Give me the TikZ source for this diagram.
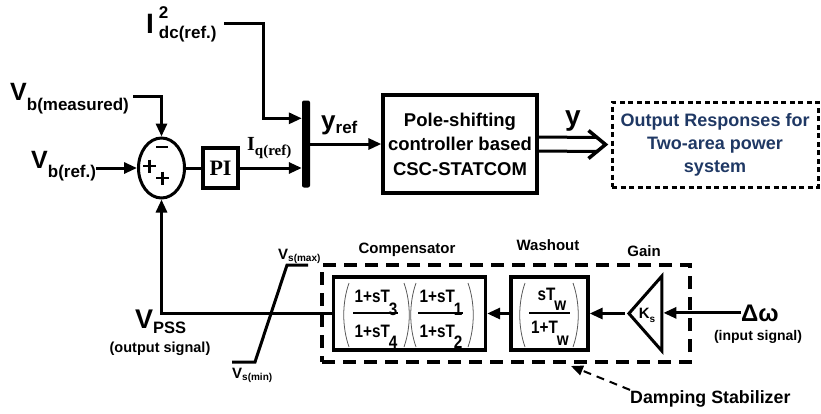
\documentclass[tikz,border=0pt]{standalone}
\usepackage{fontspec}
\setmainfont{Liberation Sans}
\newfontfamily\serifb{Liberation Serif}
\newfontfamily\narrowf[FakeStretch=0.85]{Liberation Sans}
\usetikzlibrary{arrows.meta,shapes.geometric,calc}
\definecolor{navy}{RGB}{31,56,100}
\newcommand\fsz[1]{\fontsize{#1}{#1}\selectfont}
\tikzset{
  wire/.style={line width=3pt},
  arrw/.style={-{Triangle[length=13pt,width=11pt]}},
  boxx/.style={draw,line width=3.3pt,inner sep=0pt},
  lbl/.style={inner sep=0pt},
  frn/.style={inner sep=0pt,anchor=base,font=\narrowf\bfseries\fsz{18}},
  fline/.style={line width=1.2pt},
  paren/.style={line width=0.8pt,draw=black!65},
  sgn/.style={line width=2.8pt},
}
\begin{document}
\begin{tikzpicture}[x=1pt,y=-1pt,font=\bfseries]
\useasboundingbox (0,0) rectangle (821,413);

% ---------- top row ----------
\node[lbl,anchor=base west] (idc) at (146,33)
  {\fsz{28}I\hspace{5pt}\fsz{17}\rlap{\raisebox{15pt}{2}}\raisebox{-5pt}{dc(ref.)}};
\coordinate (idco) at (224,23);

\node[lbl,anchor=base west] (vbm) at (10,100)
  {\fsz{25}V\fsz{17}\raisebox{-10pt}{b(measured)}};
\coordinate (vbmo) at (133,96);

\node[lbl,anchor=base west] (vbr) at (31,168)
  {\fsz{25}V\fsz{17}\raisebox{-9pt}{b(ref.)}};

\node[ellipse,draw,line width=3pt,minimum width=46pt,minimum height=60pt,inner sep=0pt] (sum) at (161.5,168) {};
\draw[sgn] (156,147) -- (168,147);
\draw[sgn] (143,166) -- (156,166) (149.5,159.5) -- (149.5,172.5);
\draw[sgn] (156,178) -- (169,178) (162.5,171.5) -- (162.5,184.5);

\node[boxx,minimum width=35pt,minimum height=40pt,font=\serifb\bfseries\fsz{22}] (pi) at (220.5,168) {PI};

\node[lbl,anchor=base west] (iq) at (247,150)
  {\serifb\bfseries\fsz{20}I\fsz{15}\raisebox{-5pt}{q(ref)}};

\node[fill=black,rounded corners=2pt,minimum width=8pt,minimum height=87pt,inner sep=0pt] (bar) at (306,144) {};

\node[lbl,anchor=base west] (yref) at (321,129)
  {\fsz{26}y\fsz{17}\raisebox{-4pt}{ref}};

\node[boxx,minimum width=154pt,minimum height=98pt,align=center,font=\bfseries\fontsize{18.5}{24.5}\selectfont] (pole) at (460,144)
  {Pole-shifting\\controller based\\CSC-STATCOM};

\node[draw,line width=3pt,dash pattern=on 5pt off 3.5pt,inner sep=0pt,minimum width=206pt,minimum height=85pt,align=center,text=navy,font=\bfseries\fontsize{18}{23}\selectfont] (out) at (715,144.5)
  {Output Responses for\\Two-area power\\system};

\node[lbl,anchor=base] (ylab) at (573,125) {\fsz{28}y};

% connectors top
\draw[wire,arrw] (vbmo) -| (sum.north);
\draw[wire,arrw] (vbr.east |- sum.west) -- (sum.west);
\draw[wire] (sum.east) -- (pi.west);
\draw[wire,arrw] (pi.east) -- (pi.east -| bar.west);
\draw[wire,arrw] (idco) -- ++(39,0) |- ([yshift=-18pt]bar.north west);
\draw[wire,arrw] (bar.east) -- (pole.west);
\draw[wire] ([yshift=7pt]pole.east) -- ([xshift=-13.5pt,yshift=7pt]out.west);
\draw[wire] ([yshift=-7pt]pole.east) -- ([xshift=-13.5pt,yshift=-7pt]out.west);
\draw[line width=3.5pt,miter limit=4] ([xshift=-22pt,yshift=14pt]out.west) -- ([xshift=-5pt]out.west) -- ([xshift=-22pt,yshift=-14pt]out.west);

% ---------- bottom row ----------
\node[draw,line width=3.5pt,dash pattern=on 13pt off 8pt,minimum width=368pt,minimum height=97pt,inner sep=0pt] (stab) at (506,313.5) {};

\node[boxx,minimum width=152pt,minimum height=73pt] (comp) at (409.5,313.5) {};
\node[boxx,minimum width=77pt,minimum height=73pt] (wash) at (549.5,313.5) {};

\node[isosceles triangle,isosceles triangle stretches,shape border rotate=180,draw,line width=3pt,minimum width=75pt,minimum height=33pt,inner sep=0pt,anchor=apex] (gain) at (625,313.5) {};
\node[lbl] (ks) at (647,315) {\fsz{15}K\raisebox{-4pt}{\fsz{10}s}};

% fractions
\node[frn] (n1) at (376,302) {1+sT\kern-1pt\raisebox{-13pt}{3}};
\node[frn] (d1) at (376,337) {1+sT\kern-1pt\raisebox{-11pt}{4}};
\draw[fline] (353,313) -- (398,313);
\draw[paren] (349,283) .. controls (342,303) and (342,327) .. (349,347);
\draw[paren] (404,283) .. controls (411,303) and (411,327) .. (404,347);

\node[frn] (n2) at (441,302) {1+sT\kern-1pt\raisebox{-13pt}{1}};
\node[frn] (d2) at (441,337) {1+sT\kern-1pt\raisebox{-11pt}{2}};
\draw[fline] (418,313) -- (463,313);
\draw[paren] (416,283) .. controls (409,303) and (409,327) .. (416,347);
\draw[paren] (468,283) .. controls (475,303) and (475,327) .. (468,347);

\node[frn] (n3) at (552,300) {sT\kern-1pt\raisebox{-10pt}{w}};
\node[frn] (d3) at (550,333) {1+T\kern-1pt\raisebox{-12pt}{w}};
\draw[fline] (529,313) -- (570,313);
\draw[paren] (525,283) .. controls (518,303) and (518,327) .. (525,347);
\draw[paren] (573,283) .. controls (580,303) and (580,327) .. (573,347);

% labels
\node[lbl,anchor=base] (lc) at (407,253) {\fsz{15}Compensator};
\node[lbl,anchor=base] (lw) at (548,250) {\fsz{15}Washout};
\node[lbl,anchor=base] (lg) at (644,256) {\fsz{15}Gain};

\node[lbl,anchor=base west] (dw) at (741,321) {\fsz{24}Δω};
\node[lbl,anchor=base] (ins) at (758,340) {\fsz{14}(input signal)};

\node[lbl,anchor=base west] (vpss) at (135,328) {\fsz{27}V\raisebox{-5pt}{\fsz{16.5}PSS}};
\node[lbl,anchor=base] (outs) at (160,352) {\fsz{14.5}(output signal)};

\node[lbl,anchor=base west] (vmax) at (278,259) {\fsz{15}V\raisebox{-2pt}{\fsz{10}s(max)}};
\node[lbl,anchor=base west] (vmin) at (232,378) {\fsz{15}V\raisebox{-2pt}{\fsz{10}s(min)}};

\node[lbl,anchor=base west] (dsl) at (630,403) {\fsz{17.8}Damping Stabilizer};
\coordinate (dsend) at (571,366);

% saturation
\draw[wire,miter limit=4] (232,362) -- (255,362) -- (287,265) -- (308,265);

% connectors bottom
\draw[wire,arrw] (dw.west) -- (dw.west -| gain.lower side);
\draw[wire,arrw] (gain.apex) -- (wash.east);
\draw[wire,arrw] (wash.west) -- (comp.east);
\draw[wire,arrw] (comp.west) -| (sum.south);
\draw[line width=2pt,dash pattern=on 8pt off 6pt,-{Triangle[length=12pt,width=10pt]}] (dsl.north west) -- (dsend);
\end{tikzpicture}
\end{document}
